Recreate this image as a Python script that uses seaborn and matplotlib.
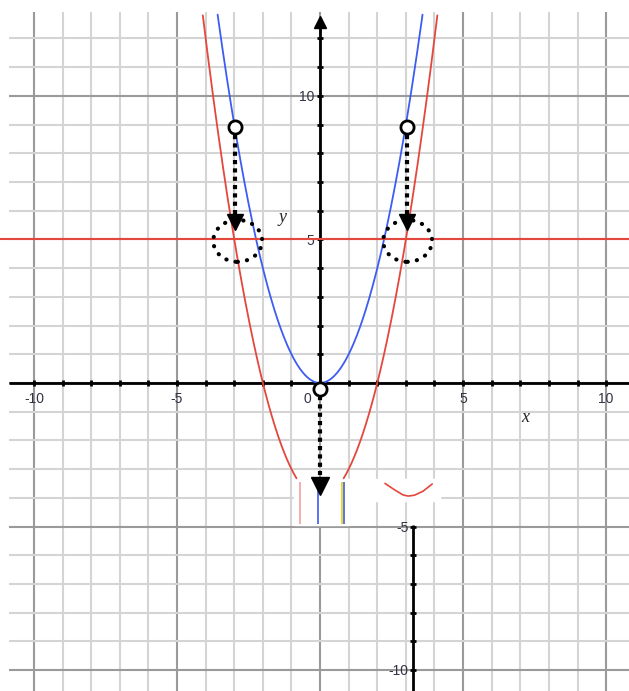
"""Parabola shift sketch: y = x^2 (blue), y = x^2 - 4 (red) and the line y = 5."""
import numpy as np
import pandas as pd
import matplotlib
matplotlib.use('Agg')
import matplotlib.pyplot as plt
from matplotlib.patches import Ellipse, Rectangle
import seaborn as sns

# axis window (data units)
x_view = (-11.19, 10.80)
y_view = (-10.73, 13.34)
grid_left = -10.87
grid_top = 12.93
curve_floor = -3.35          # curves are cut off here in the reference

# functions drawn: y = a*x^2 + c
blue_coef = [1.0, 0.0]
red_coef = [1.0, -4.0]
hline_y = 5

# tick labels
x_tick_vals = [-10, -5, 0, 5, 10]
x_tick_text = ['-10', '-5', '0', '5', '10']
y_tick_vals = [10, 5]
y_tick_text = ['10', '5']
low_tick_vals = [-5, -10]
low_tick_text = ['-5', '-10']

# open circles and the dotted arrows that drop from them
circle_x = [-2.97, 3.04, 0.0]
circle_y = [8.92, 8.92, -0.2]
arrow_x = [-2.97, 3.04, 0.0]
arrow_from = [8.65, 8.65, -0.45]
arrow_to = [5.85, 5.85, -3.2]
head_y = [5.6, 5.6, -3.6]
head_size = [11, 11, 13]

# dotted ellipses round the crossings
ell_x = [-2.88, 3.06]
ell_y = [4.95, 4.95]
ell_w = [1.71, 1.71]
ell_h = [1.46, 1.46]

# the broken strip at the bottom of the screenshot
low_axis_x = 3.25
glitch_arc_x = [2.27, 2.6, 2.9, 3.08, 3.3, 3.6, 3.92]
glitch_arc_y = [-3.50, -3.72, -3.90, -3.94, -3.91, -3.77, -3.52]

RED = '#e4473c'
BLUE = '#3d5cf2'
MINOR = '#d4d4d4'
MAJOR = '#9a9a9a'
LABEL = '#333344'

sns.set_theme(style='white')
plt.rcParams['font.family'] = ['Liberation Sans', 'DejaVu Sans']

fig = plt.figure(figsize=(6.29, 6.91), dpi=100)
ax = fig.add_axes([0, 0, 1, 1])
ax.set_xlim(*x_view)
ax.set_ylim(*y_view)
ax.axis('off')

# grid
for gx in range(-10, 11):
    ax.vlines(gx, y_view[0], grid_top, color=MAJOR if gx % 5 == 0 else MINOR, lw=1.5, zorder=1)
for gy in range(-10, 13):
    ax.hlines(gy, grid_left, x_view[1], color=MAJOR if gy % 5 == 0 else MINOR, lw=1.5, zorder=1)

# broken strip
ax.add_patch(Rectangle((-0.9, -4.1), 5.1, 0.75, color='white', zorder=2))
ax.add_patch(Rectangle((-0.9, -4.95), 1.9, 0.9, color='white', zorder=2))
for fx, fc in zip([-0.7, -0.07, 0.78, 0.82], ['#f4a0a0', BLUE, '#e8d000', BLUE]):
    ax.vlines(fx, -4.9, -3.45, color=fc, lw=1.2, zorder=3)
sns.lineplot(x=glitch_arc_x, y=glitch_arc_y, color=RED, lw=1.2, ax=ax, zorder=3)

# axes
ax.hlines(0, grid_left, x_view[1], color='black', lw=2, zorder=4)
ax.vlines(0, 0, grid_top - 0.3, color='black', lw=2, zorder=4)
ax.plot([0], [grid_top - 0.35], marker='^', ms=8, color='black', zorder=4)
ticks = np.arange(-10, 11)
ax.plot(ticks, np.zeros_like(ticks), ls='none', marker='|', ms=4, mew=2, color='black', zorder=4)
yt = np.arange(1, 13)
ax.plot(np.zeros_like(yt), yt, ls='none', marker='_', ms=4, mew=2, color='black', zorder=4)
ax.vlines(low_axis_x, y_view[0], -4.95, color='black', lw=2, zorder=4)
lt = np.arange(-10, -4)
ax.plot(np.full_like(lt, low_axis_x, dtype=float), lt, ls='none', marker='_', ms=5, mew=2,
        color='black', zorder=4)

for v, t in zip(x_tick_vals, x_tick_text):
    ax.text(v - (0.45 if v == 0 else 0), -0.55, t, ha='center', va='center', fontsize=10, color=LABEL)
for v, t in zip(y_tick_vals, y_tick_text):
    ax.text(-0.2, v - 0.05, t, ha='right', va='center', fontsize=10, color=LABEL)
for v, t in zip(low_tick_vals, low_tick_text):
    ax.text(low_axis_x - 0.15, v - 0.05, t, ha='right', va='center', fontsize=10, color=LABEL)
ax.text(7.17, -1.22, 'x', fontsize=13, style='italic', family='Liberation Serif', ha='center', va='center')
ax.text(-1.33, 5.75, 'y', fontsize=13, style='italic', family='Liberation Serif', ha='center', va='center')

# curves, one unit per branch so the cut-off ends are not joined
xs_blue = np.linspace(-3.6, 3.6, 401)
xs_red = np.linspace(-4.12, 4.12, 401)
parts = []
for name, xs, (a, c) in [('blue', xs_blue, blue_coef), ('red', xs_red, red_coef)]:
    ys = a * xs ** 2 + c
    keep = (ys <= grid_top) & (ys >= curve_floor)
    side = np.where(xs < 0, 'L', 'R')
    if name == 'blue':
        side[:] = 'A'
    parts.append(pd.DataFrame({'x': xs[keep], 'y': ys[keep], 'f': name,
                               'branch': [name + s for s in side[keep]]}))
curves = pd.concat(parts, ignore_index=True)
sns.lineplot(data=curves, x='x', y='y', hue='f', units='branch', estimator=None,
             palette={'blue': BLUE, 'red': RED}, lw=1.3, sort=False, legend=False, ax=ax, zorder=5)
ax.hlines(hline_y, x_view[0], x_view[1], color=RED, lw=1.5, zorder=5)

# annotations
for ex, ey, ew, eh in zip(ell_x, ell_y, ell_w, ell_h):
    ax.add_patch(Ellipse((ex, ey), ew, eh, fill=False, ec='black', lw=3,
                         ls=(0, (0.05, 2.2)), capstyle='round', zorder=6))
for ax_x, a0, a1, hy, hs in zip(arrow_x, arrow_from, arrow_to, head_y, head_size):
    ax.plot([ax_x, ax_x], [a0, a1], color='black', lw=3, ls=(0, (1, 1)), zorder=6)
    ax.plot([ax_x], [hy], marker='v', ms=hs, color='black', zorder=6)
ax.scatter(circle_x, circle_y, s=90, facecolors='white', edgecolors='black', linewidths=2, zorder=7)

fig.savefig('out.png', dpi=100)
